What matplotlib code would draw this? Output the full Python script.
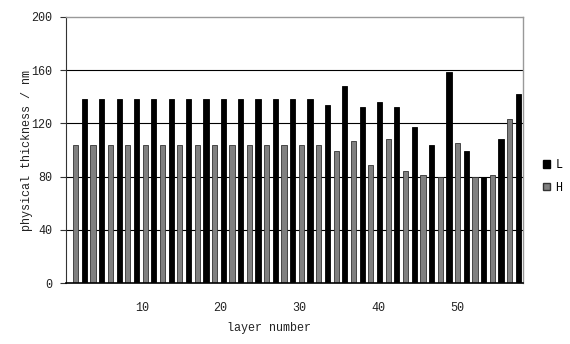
import matplotlib
matplotlib.use("Agg")
import matplotlib.pyplot as plt
from matplotlib.patches import Patch

# layer numbers and thicknesses (0 = layer not of that type)
layers = list(range(1, 53))
L_thick = [0, 138] * 14 + [0, 134, 0, 148, 0, 132, 0, 136, 0, 132,
                           0, 117, 0, 104, 0, 159, 0, 99, 0, 80, 0, 108, 0, 142]
H_thick = [104, 0] * 15 + [99, 0, 107, 0, 89, 0, 108, 0, 84, 0,
                           81, 0, 80, 0, 105, 0, 80, 0, 81, 0, 123, 0]

# the x labels sit where they are in the picture
xtick_pos = [8.6, 17.7, 26.8, 35.9, 45.0]
xtick_lab = ["10", "20", "30", "40", "50"]
yticks = [0, 40, 80, 120, 160, 200]

plt.rcParams["font.family"] = ["Liberation Mono", "DejaVu Sans Mono"]
txt = "#222222"
fs = 8.5

fig = plt.figure(figsize=(5.7, 3.44), dpi=100)
ax = fig.add_axes([0.1158, 0.1773, 0.9175 - 0.1158, 0.9506 - 0.1773])

for y in yticks[1:-1]:
    ax.axhline(y, color="black", lw=0.8, zorder=0)

w = 0.6
ax.bar([x for x, v in zip(layers, H_thick) if v], [v for v in H_thick if v],
       width=w, color="#808080", edgecolor="#333333", linewidth=0.6, zorder=2)
ax.bar([x for x, v in zip(layers, L_thick) if v], [v for v in L_thick if v],
       width=w, color="black", edgecolor="black", linewidth=0.6, zorder=2)

ax.set_xlim(-0.12, 52.53)
ax.set_ylim(0, 200)
ax.set_yticks(yticks)
ax.set_xticks(xtick_pos)
ax.set_xticklabels(xtick_lab)
ax.tick_params(axis="x", length=0, pad=14, labelsize=fs, labelcolor=txt)
ax.tick_params(axis="y", length=4, width=0.8, direction="out", pad=6,
               labelsize=fs, labelcolor=txt, color="#333333")

for s in ["top", "right"]:
    ax.spines[s].set_color("#999999")
    ax.spines[s].set_linewidth(1.0)
ax.spines["left"].set_color("#333333")
ax.spines["bottom"].set_color("black")
ax.spines["bottom"].set_linewidth(1.2)

ax.set_xlabel("layer number", fontsize=fs, color=txt)
ax.xaxis.set_label_coords((269 - 66) / 457, -0.148)
ax.set_ylabel("physical thickness / nm", fontsize=fs, color=txt, labelpad=-1)

handles = [Patch(facecolor="black", edgecolor="black", label="L"),
           Patch(facecolor="#808080", edgecolor="#333333", label="H")]
fig.legend(handles=handles, loc="center left", bbox_to_anchor=(0.945, 0.487),
           frameon=False, fontsize=fs, handlelength=0.6, handleheight=0.6,
           handletextpad=0.4, labelspacing=0.9, borderaxespad=0)

fig.savefig("out.png", dpi=100)
